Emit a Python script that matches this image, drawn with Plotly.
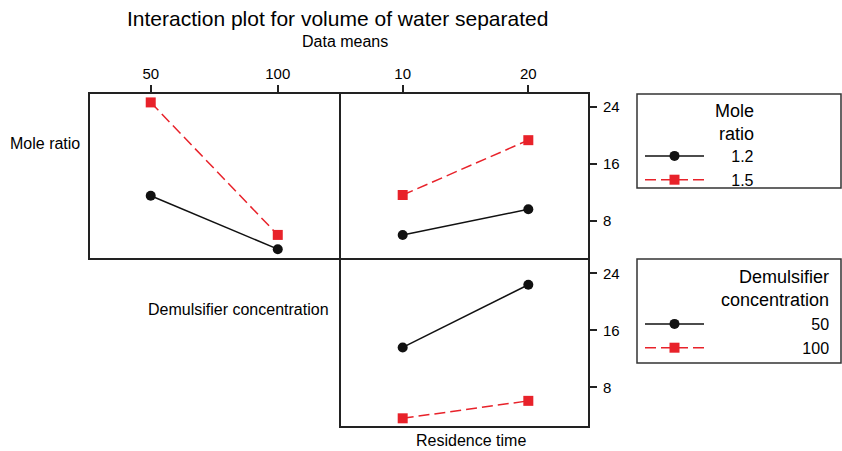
import plotly.graph_objects as go

# ---- data ----
demuls_levels = [50, 100]
residence_levels = [10, 20]
mole_labels = ["1.2", "1.5"]
demuls_labels = ["50", "100"]

# Mole ratio x Demulsifier concentration (top-left)
mole12_by_demuls = [11.5, 4.0]
mole15_by_demuls = [24.6, 6.0]
# Mole ratio x Residence time (top-right)
mole12_by_res = [6.0, 9.6]
mole15_by_res = [11.6, 19.3]
# Demulsifier x Residence time (bottom-right)
dem50_by_res = [13.6, 22.4]
dem100_by_res = [3.65, 6.1]

y_ticks = [8, 16, 24]

W, H = 842, 451
def px(x):
    return x / W
def py(y):
    return 1 - y / H

BLACK = "#111111"
RED = "#e8222a"
FONT = "Liberation Sans, Arial, sans-serif"
NB = "\u00a0"
LW = 2

black_style = dict(mode="lines+markers", line=dict(color=BLACK, width=1.5),
                   marker=dict(symbol="circle", size=10, color=BLACK))
red_style = dict(mode="lines+markers", line=dict(color=RED, width=1.5, dash="11px,5px"),
                 marker=dict(symbol="square", size=10, color=RED))

fig = go.Figure()
# top-left
fig.add_trace(go.Scatter(x=demuls_levels, y=mole12_by_demuls, xaxis="x", yaxis="y",
                         showlegend=False, **black_style))
fig.add_trace(go.Scatter(x=demuls_levels, y=mole15_by_demuls, xaxis="x", yaxis="y",
                         showlegend=False, **red_style))
# top-right
fig.add_trace(go.Scatter(x=residence_levels, y=mole12_by_res, xaxis="x2", yaxis="y2",
                         name=NB * 5 + mole_labels[0], legend="legend", **black_style))
fig.add_trace(go.Scatter(x=residence_levels, y=mole15_by_res, xaxis="x2", yaxis="y2",
                         name=NB * 5 + mole_labels[1], legend="legend", **red_style))
# bottom-right
fig.add_trace(go.Scatter(x=residence_levels, y=dem50_by_res, xaxis="x3", yaxis="y3",
                         name=NB * 23 + demuls_labels[0], legend="legend2", **black_style))
fig.add_trace(go.Scatter(x=residence_levels, y=dem100_by_res, xaxis="x3", yaxis="y3",
                         name=NB * 21 + demuls_labels[1], legend="legend2", **red_style))

# inner plotting areas (axis lines are drawn just outside them)
x_left = [px(90), px(339)]
x_right = [px(341), px(588)]
y_top = [py(258), py(94)]
y_bot = [py(426), py(260)]

axis_common = dict(showline=True, mirror=True, linecolor="#222222", linewidth=LW,
                   showgrid=False, zeroline=False,
                   tickfont=dict(family=FONT, size=15, color="black"),
                   tickcolor="#222222", tickwidth=1.5, ticklen=7)

fig.update_layout(
    width=W, height=H,
    margin=dict(l=0, r=0, t=0, b=0),
    paper_bgcolor="white", plot_bgcolor="white",
    font=dict(family=FONT, color="black"),
    xaxis=dict(domain=x_left, range=[26.1, 124.1], side="top", ticks="outside",
               tickvals=demuls_levels, anchor="y", **axis_common),
    yaxis=dict(domain=y_top, range=[2.76, 25.78], showticklabels=False, ticks="", anchor="x",
               **axis_common),
    xaxis2=dict(domain=x_right, range=[5.09, 24.75], side="top", ticks="outside",
                tickvals=residence_levels, anchor="y2", **axis_common),
    yaxis2=dict(domain=y_top, range=[2.76, 25.78], side="right", ticks="outside", tickvals=y_ticks,
                anchor="x2", ticklabelstandoff=3, **axis_common),
    xaxis3=dict(domain=x_right, range=[5.09, 24.75], showticklabels=False, ticks="",
                anchor="y3", **axis_common),
    yaxis3=dict(domain=y_bot, range=[2.57, 25.87], side="right", ticks="outside", tickvals=y_ticks,
                anchor="x3", ticklabelstandoff=3, **axis_common),
    legend=dict(x=px(640), y=py(139), xanchor="left", yanchor="top",
                bgcolor="rgba(0,0,0,0)", borderwidth=0, itemwidth=59,
                font=dict(family=FONT, size=16, color="black")),
    legend2=dict(x=px(640), y=py(307), xanchor="left", yanchor="top",
                 bgcolor="rgba(0,0,0,0)", borderwidth=0, itemwidth=59,
                 font=dict(family=FONT, size=16, color="black")),
    shapes=[
        dict(type="rect", xref="paper", yref="paper", x0=px(637), x1=px(841), y0=py(188), y1=py(94),
             line=dict(color="#333333", width=1.5)),
        dict(type="rect", xref="paper", yref="paper", x0=px(637), x1=px(841), y0=py(363), y1=py(259),
             line=dict(color="#333333", width=1.5)),
    ],
    annotations=[
        dict(text="Interaction plot for volume of water separated", x=px(337), y=py(18),
             xref="paper", yref="paper", showarrow=False, xanchor="center", yanchor="middle",
             font=dict(family=FONT, size=21, color="black")),
        dict(text="Data means", x=px(345), y=py(41), xref="paper", yref="paper", showarrow=False,
             xanchor="center", yanchor="middle", font=dict(family=FONT, size=16, color="black")),
        dict(text="Mole ratio", x=px(45), y=py(143), xref="paper", yref="paper", showarrow=False,
             xanchor="center", yanchor="middle", font=dict(family=FONT, size=16, color="black")),
        dict(text="Demulsifier concentration", x=px(238), y=py(309), xref="paper", yref="paper",
             showarrow=False, xanchor="center", yanchor="middle",
             font=dict(family=FONT, size=16, color="black")),
        dict(text="Residence time", x=px(471), y=py(440), xref="paper", yref="paper",
             showarrow=False, xanchor="center", yanchor="middle",
             font=dict(family=FONT, size=16, color="black")),
        dict(text="Mole<br>ratio", x=px(756), y=py(99), xref="paper", yref="paper",
             showarrow=False, xanchor="right", yanchor="top", align="right",
             font=dict(family=FONT, size=18, color="black")),
        dict(text="Demulsifier<br>concentration", x=px(831), y=py(265), xref="paper", yref="paper",
             showarrow=False, xanchor="right", yanchor="top", align="right",
             font=dict(family=FONT, size=18, color="black")),
    ],
)

fig.write_html("out.html", config={"displayModeBar": False},
               post_script="document.body.style.margin='0';document.body.style.padding='0';document.body.style.overflow='hidden';")
